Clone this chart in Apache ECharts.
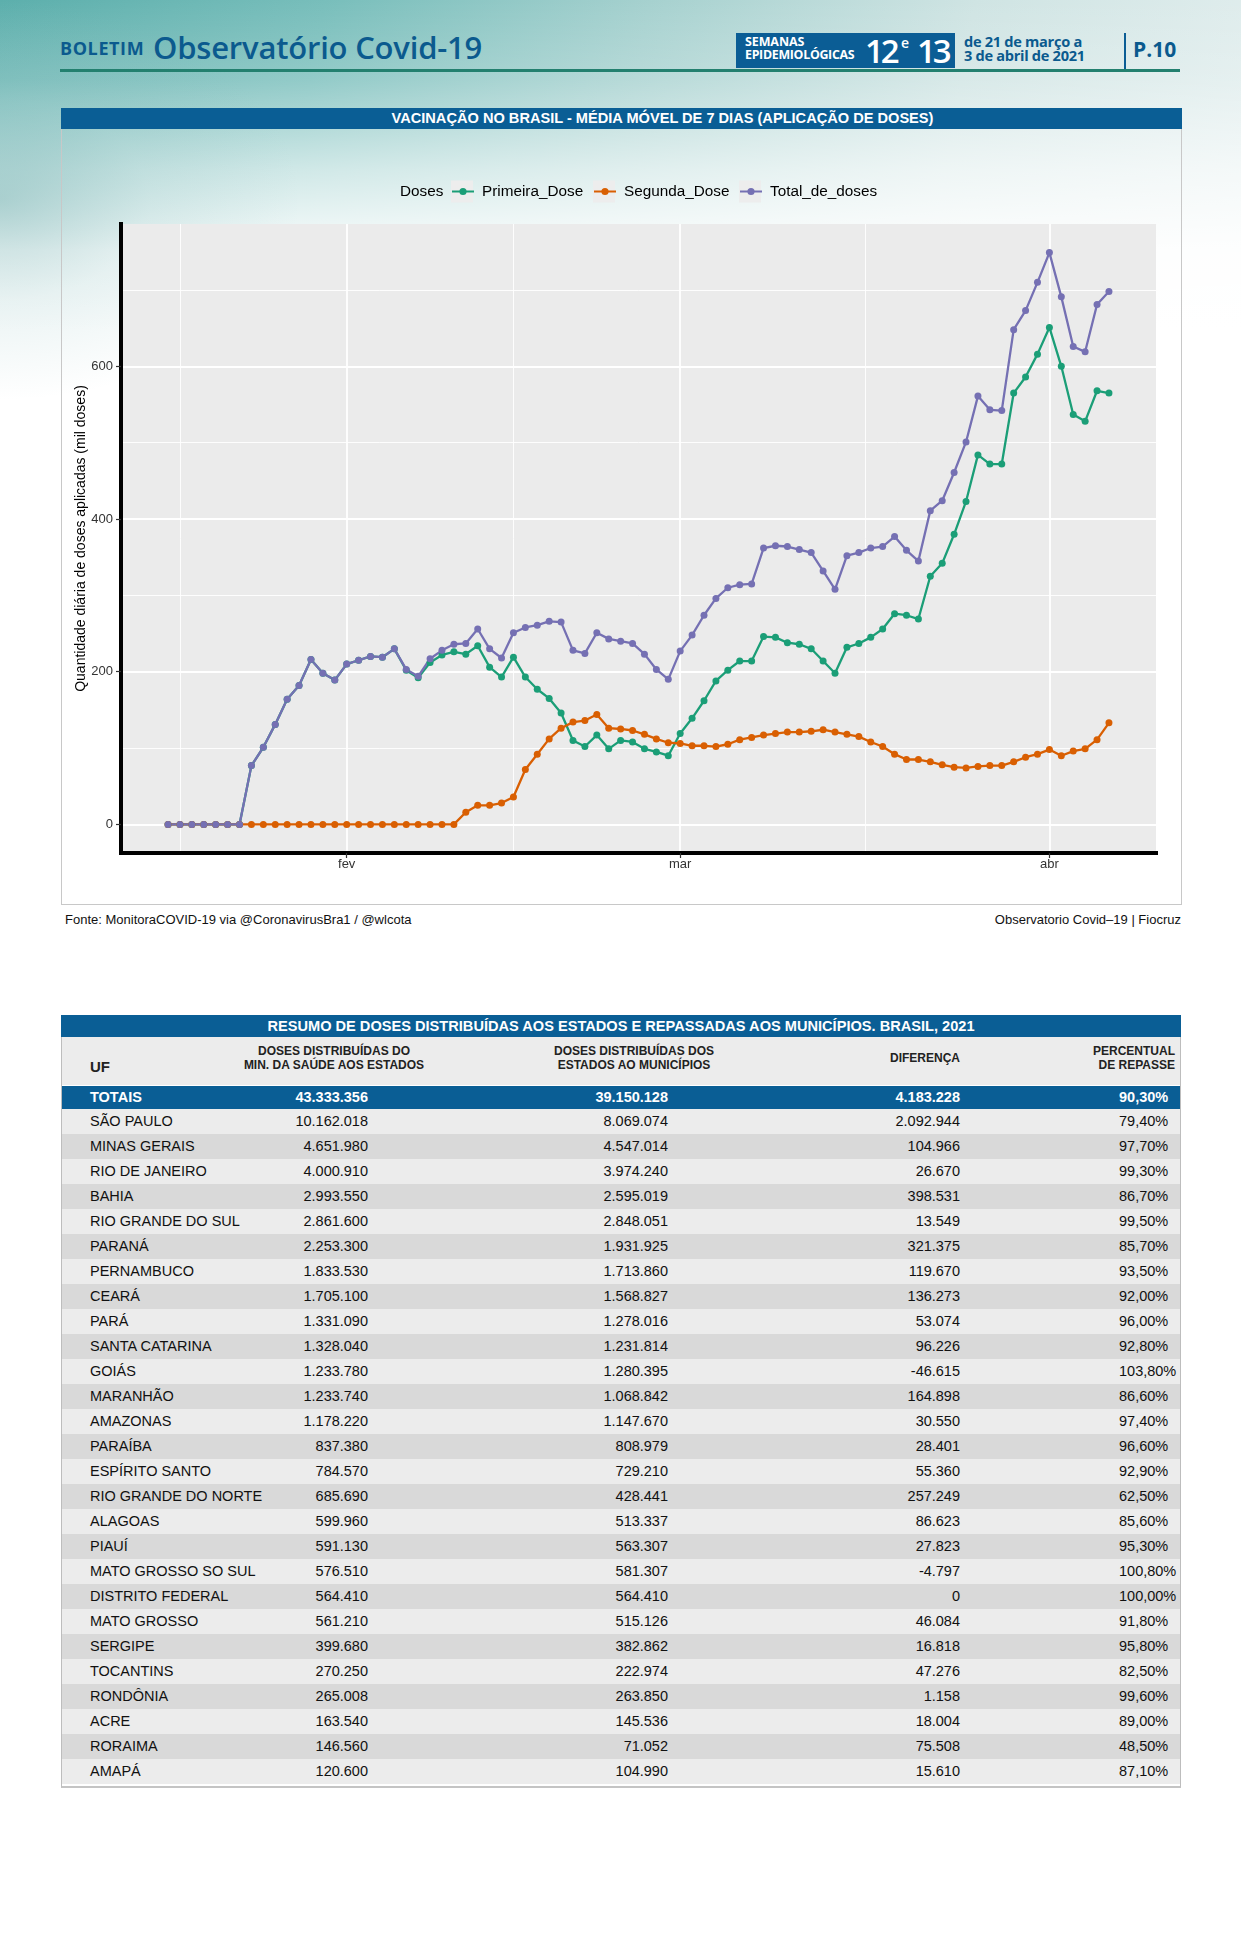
<!DOCTYPE html>
<html><head><meta charset="utf-8">
<script src="https://cdn.jsdelivr.net/npm/echarts@6/dist/echarts.min.js"></script>
<style>
html,body{margin:0;padding:0;background:#fff;}
#page{position:relative;width:1241px;height:1949px;overflow:hidden;font-family:"Liberation Sans",Arial,sans-serif;}
.abs{position:absolute;white-space:nowrap;}
#bg{position:absolute;left:0;top:0;width:1241px;height:340px;
 background:
 linear-gradient(to bottom, rgba(255,255,255,0) 0px, rgba(255,255,255,0.2) 80px, rgba(255,255,255,0.65) 170px, rgba(255,255,255,0.95) 250px, #fff 330px),
 linear-gradient(100deg, #5cafac 0%, #78bebb 25%, #a6d1cf 50%, #cfe4e3 75%, #e2eeee 100%);}
#bgleft{position:absolute;left:0;top:0;width:500px;height:500px;
 background:radial-gradient(ellipse 60% 40% at 0% 40%, rgba(100,165,165,0.40) 0%, rgba(140,190,190,0.18) 50%, rgba(255,255,255,0) 100%);}
.hdr{font-family:"Open Sans","Noto Sans",sans-serif;color:#0b5a8e;}
#chart{position:absolute;left:0;top:0;width:1241px;height:940px;z-index:3;}
.bar{position:absolute;background:#0a5e95;color:#fff;font-weight:bold;font-size:14.6px;text-align:center;}
.cell{position:absolute;white-space:nowrap;font-size:14.5px;color:#111;line-height:25px;}
.hcell{position:absolute;white-space:nowrap;font-size:12px;font-weight:bold;color:#222;line-height:13.5px;}
</style></head><body>
<div id="page">
 <div id="bg"></div>
 <div id="bgleft"></div>
 <!-- header -->
 <div class="abs hdr" style="left:60px;top:39px;font-size:18px;line-height:18px;font-weight:700;letter-spacing:0.6px;">BOLETIM</div>
 <div class="abs hdr" style="left:153px;top:31px;font-size:31px;line-height:32px;font-weight:600;letter-spacing:-0.2px;">Observatório Covid-19</div>
 <div class="abs" style="left:736px;top:33px;width:219px;height:35px;background:#0b5d95;"></div>
 <div class="abs hdr" style="left:745px;top:36px;font-size:12.5px;line-height:12px;font-weight:700;color:#fff;letter-spacing:-0.1px;">SEMANAS</div>
 <div class="abs hdr" style="left:745px;top:49px;font-size:12.4px;line-height:12px;font-weight:700;color:#fff;letter-spacing:-0.3px;">EPIDEMIOLÓGICAS</div>
 <div class="abs hdr" style="left:865px;top:34px;font-size:33px;line-height:33px;font-weight:600;color:#fff;letter-spacing:-3px;">12</div>
 <div class="abs hdr" style="left:901px;top:36px;font-size:14px;line-height:14px;font-weight:600;color:#fff;">e</div>
 <div class="abs hdr" style="left:917px;top:34px;font-size:33px;line-height:33px;font-weight:600;color:#fff;letter-spacing:-3px;">13</div>
 <div class="abs hdr" style="left:964px;top:35px;font-size:14.6px;line-height:13px;font-weight:700;letter-spacing:-0.3px;">de 21 de março a</div>
 <div class="abs hdr" style="left:964px;top:48.5px;font-size:14.6px;line-height:13px;font-weight:700;letter-spacing:-0.3px;">3 de abril de 2021</div>
 <div class="abs" style="left:1124px;top:33px;width:1.5px;height:36px;background:#0b5d95;"></div>
 <div class="abs hdr" style="left:1133px;top:39px;font-size:21px;line-height:21px;font-weight:700;">P.10</div>
 <div class="abs" style="left:60px;top:69px;width:1120px;height:3px;background:#23806f;"></div>

 <!-- chart box -->
 <div class="abs" style="left:61px;top:129px;width:1119px;height:775px;border:1px solid #c8c8c8;border-top:none;"></div>
 <div class="bar" style="left:61px;top:108px;width:1121px;height:21px;line-height:21px;"><span style="position:relative;left:41px;">VACINAÇÃO NO BRASIL - MÉDIA MÓVEL DE 7 DIAS (APLICAÇÃO DE DOSES)</span></div>
 <div id="chart"></div>
 <div class="abs" style="left:65px;top:912px;font-size:13px;line-height:16px;color:#111;">Fonte: MonitoraCOVID-19 via @CoronavirusBra1 / @wlcota</div>
 <div class="abs" style="right:60px;top:912px;font-size:13px;line-height:16px;color:#111;">Observatorio Covid–19 | Fiocruz</div>

 <!-- table -->
 <div id="table"></div>
</div>
<script>
// ---------------- chart data ----------------
const dates = [
 '2021-01-17','2021-01-18','2021-01-19','2021-01-20','2021-01-21','2021-01-22','2021-01-23','2021-01-24','2021-01-25','2021-01-26',
 '2021-01-27','2021-01-28','2021-01-29','2021-01-30','2021-01-31','2021-02-01','2021-02-02','2021-02-03','2021-02-04','2021-02-05',
 '2021-02-06','2021-02-07','2021-02-08','2021-02-09','2021-02-10','2021-02-11','2021-02-12','2021-02-13','2021-02-14','2021-02-15',
 '2021-02-16','2021-02-17','2021-02-18','2021-02-19','2021-02-20','2021-02-21','2021-02-22','2021-02-23','2021-02-24','2021-02-25',
 '2021-02-26','2021-02-27','2021-02-28','2021-03-01','2021-03-02','2021-03-03','2021-03-04','2021-03-05','2021-03-06','2021-03-07',
 '2021-03-08','2021-03-09','2021-03-10','2021-03-11','2021-03-12','2021-03-13','2021-03-14','2021-03-15','2021-03-16','2021-03-17',
 '2021-03-18','2021-03-19','2021-03-20','2021-03-21','2021-03-22','2021-03-23','2021-03-24','2021-03-25','2021-03-26','2021-03-27',
 '2021-03-28','2021-03-29','2021-03-30','2021-03-31','2021-04-01','2021-04-02','2021-04-03','2021-04-04','2021-04-05','2021-04-06'
];
const primeiraDose = [
 0,0,0,0,0,0,0,77,101,131,
 164,182,216,198,189,210,215,220,219,230,
 202,192,212,222,226,223,234,206,193,219,
 193,177,165,146,110,102,117,99,110,108,
 99,95,90,119,139,162,188,202,214,214,
 246,245,238,236,230,214,198,232,237,245,
 256,276,274,269,325,342,380,423,484,472,
 472,565,586,616,651,600,537,528,568,565
];
const segundaDose = [
 0,0,0,0,0,0,0,0,0,0,
 0,0,0,0,0,0,0,0,0,0,
 0,0,0,0,0,16,25,25,28,36,
 72,92,112,126,134,136,144,126,125,123,
 118,112,107,106,103,103,102,105,111,114,
 117,119,121,121,122,124,121,118,115,108,
 102,92,85,85,82,78,75,74,76,77,
 77,82,88,92,98,90,96,99,111,133
];
const totalDoses = [
 0,0,0,0,0,0,0,77,101,131,
 164,182,216,198,189,210,215,220,219,230,
 203,194,217,228,236,237,256,230,218,251,
 258,261,266,265,228,224,251,243,240,237,
 223,203,190,227,248,274,296,310,314,315,
 362,365,364,360,356,332,308,352,356,362,
 364,377,359,345,411,424,461,501,561,543,
 542,648,673,710,749,691,626,619,681,698
];
const seriesNames = ['Primeira_Dose','Segunda_Dose','Total_de_doses'];
const seriesColors = ['#1B9E77','#D95F02','#7570B3'];
const monthTicks = ['2021-02-01','2021-03-01','2021-04-01'];
const monthLabels = ['fev','mar','abr'];
const yTicks = [0,200,400,600];
const yMinorTicks = [100,300,500,700];

// ---------------- table data ----------------
const ufNames = ['SÃO PAULO','MINAS GERAIS','RIO DE JANEIRO','BAHIA','RIO GRANDE DO SUL','PARANÁ','PERNAMBUCO','CEARÁ','PARÁ','SANTA CATARINA','GOIÁS','MARANHÃO','AMAZONAS','PARAÍBA','ESPÍRITO SANTO','RIO GRANDE DO NORTE','ALAGOAS','PIAUÍ','MATO GROSSO SO SUL','DISTRITO FEDERAL','MATO GROSSO','SERGIPE','TOCANTINS','RONDÔNIA','ACRE','RORAIMA','AMAPÁ'];
const dosesMS = ['10.162.018','4.651.980','4.000.910','2.993.550','2.861.600','2.253.300','1.833.530','1.705.100','1.331.090','1.328.040','1.233.780','1.233.740','1.178.220','837.380','784.570','685.690','599.960','591.130','576.510','564.410','561.210','399.680','270.250','265.008','163.540','146.560','120.600'];
const dosesEstados = ['8.069.074','4.547.014','3.974.240','2.595.019','2.848.051','1.931.925','1.713.860','1.568.827','1.278.016','1.231.814','1.280.395','1.068.842','1.147.670','808.979','729.210','428.441','513.337','563.307','581.307','564.410','515.126','382.862','222.974','263.850','145.536','71.052','104.990'];
const diferenca = ['2.092.944','104.966','26.670','398.531','13.549','321.375','119.670','136.273','53.074','96.226','-46.615','164.898','30.550','28.401','55.360','257.249','86.623','27.823','-4.797','0','46.084','16.818','47.276','1.158','18.004','75.508','15.610'];
const percentual = ['79,40%','97,70%','99,30%','86,70%','99,50%','85,70%','93,50%','92,00%','96,00%','92,80%','103,80%','86,60%','97,40%','96,60%','92,90%','62,50%','85,60%','95,30%','100,80%','100,00%','91,80%','95,80%','82,50%','99,60%','89,00%','48,50%','87,10%'];
const totais = ['TOTAIS','43.333.356','39.150.128','4.183.228','90,30%'];

// ---------------- build table first ----------------
const T=document.getElementById('table');
function add(html){T.insertAdjacentHTML('beforeend',html);}
const TL=61, TW=1120;
add('<div class="bar" style="left:'+TL+'px;top:1015px;width:'+TW+'px;height:22px;line-height:22px;">RESUMO DE DOSES DISTRIBUÍDAS AOS ESTADOS E REPASSADAS AOS MUNICÍPIOS. BRASIL, 2021</div>');
add('<div class="abs" style="left:'+TL+'px;top:1037px;width:'+(TW-2)+'px;height:749px;border:1px solid #bdbdbd;border-top:none;border-bottom:2px solid #c4c4c4;"></div>');
add('<div class="abs" style="left:'+(TL+1)+'px;top:1037px;width:'+(TW-2)+'px;height:48px;background:#ececec;"></div>');
add('<div class="hcell" style="left:90px;top:1059px;font-size:15px;line-height:16px;">UF</div>');
add('<div class="hcell" style="left:234px;width:200px;top:1045px;text-align:center;">DOSES DISTRIBUÍDAS DO<br>MIN. DA SAÚDE AOS ESTADOS</div>');
add('<div class="hcell" style="left:534px;width:200px;top:1045px;text-align:center;">DOSES DISTRIBUÍDAS DOS<br>ESTADOS AO MUNICÍPIOS</div>');
add('<div class="hcell" style="left:825px;width:200px;top:1052px;text-align:center;">DIFERENÇA</div>');
add('<div class="hcell" style="left:975px;width:200px;top:1045px;text-align:right;">PERCENTUAL<br>DE REPASSE</div>');
add('<div class="abs" style="left:'+(TL+1)+'px;top:1086px;width:'+(TW-2)+'px;height:23px;background:#0a5e95;"></div>');
function rowCells(top,vals,style){
  add('<div class="cell" style="left:90px;top:'+top+'px;'+style+'">'+vals[0]+'</div>');
  add('<div class="cell" style="right:'+(1241-368)+'px;top:'+top+'px;'+style+'">'+vals[1]+'</div>');
  add('<div class="cell" style="right:'+(1241-668)+'px;top:'+top+'px;'+style+'">'+vals[2]+'</div>');
  add('<div class="cell" style="right:'+(1241-960)+'px;top:'+top+'px;'+style+'">'+vals[3]+'</div>');
  add('<div class="cell" style="left:1119px;top:'+top+'px;'+style+'">'+vals[4]+'</div>');
}
rowCells(1085,totais,'color:#fff;font-weight:bold;');
for(let i=0;i<ufNames.length;i++){
  const top=1109+25*i;
  add('<div class="abs" style="left:'+(TL+1)+'px;top:'+top+'px;width:'+(TW-2)+'px;height:25px;background:'+(i%2===0?'#ececec':'#d9d9d9')+';"></div>');
  rowCells(top,[ufNames[i],dosesMS[i],dosesEstados[i],diferenca[i],percentual[i]],'');
}

// ---------------- build chart ----------------
function ts(s){const p=s.split('-').map(Number);return new Date(p[0],p[1]-1,p[2]).getTime();}
const xs=dates.map(ts);
const t0=xs[0], t1=xs[xs.length-1];
const xPad=(t1-t0)*0.05;
const xMin=t0-xPad, xMax=t1+xPad;
const majorX=monthTicks.map(ts);
const minorX=[];
const ext=[majorX[0]-(majorX[1]-majorX[0])].concat(majorX);
for(let i=0;i<ext.length-1;i++){minorX.push((ext[i]+ext[i+1])/2);}
const allVals=primeiraDose.concat(segundaDose,totalDoses);
const vMin=Math.min.apply(null,allVals), vMax=Math.max.apply(null,allVals);
const yPad=(vMax-vMin)*0.05;
const yMin=vMin-yPad, yMax=vMax+yPad;
const FONT='"Liberation Sans", Arial, sans-serif';

const valueArrays=[primeiraDose,segundaDose,totalDoses];
const series=seriesNames.map((n,k)=>({
  name:n,type:'line',xAxisIndex:0,yAxisIndex:0,
  data:xs.map((x,i)=>[x,valueArrays[k][i]]),
  symbol:'circle',symbolSize:7,showSymbol:true,showAllSymbol:true,
  lineStyle:{width:2.3,color:seriesColors[k]},
  itemStyle:{color:seriesColors[k],borderWidth:0},
  emphasis:{disabled:true},silent:true
}));

const legendLefts=[451,593,739];
const legends=seriesNames.map((n,k)=>({
  data:[n],left:legendLefts[k],top:184,padding:0,itemWidth:22,itemHeight:9,
  selectedMode:false,z:6,
  textStyle:{fontSize:15.3,color:'#000',fontFamily:FONT,padding:[0,0,0,3]}
}));

const chart=echarts.init(document.getElementById('chart'),null,{renderer:'canvas'});
chart.setOption({
  animation:false,
  backgroundColor:'transparent',
  grid:{left:121,top:224,width:1035,height:629,show:true,backgroundColor:'#EBEBEB',borderWidth:0,containLabel:false},
  legend:legends,
  graphic:{elements:[
    {type:'text',left:400,top:184,style:{text:'Doses',fontSize:15.3,fill:'#000',fontFamily:FONT},z:10},
    {type:'rect',shape:{x:451,y:180.5,width:22,height:22},style:{fill:'#EDEDED'},z:1},
    {type:'rect',shape:{x:593,y:180.5,width:22,height:22},style:{fill:'#EDEDED'},z:1},
    {type:'rect',shape:{x:739,y:180.5,width:22,height:22},style:{fill:'#EDEDED'},z:1}
  ]},
  xAxis:[
    {type:'value',min:xMin,max:xMax,position:'bottom',
     axisLine:{show:true,onZero:false,lineStyle:{color:'#000',width:4,cap:'square'}},
     axisTick:{show:true,customValues:majorX,length:5,lineStyle:{color:'#333',width:1.2}},
     axisLabel:{show:true,customValues:majorX,color:'#333',fontSize:13,fontFamily:FONT,margin:5,
       formatter:function(v){const idx=majorX.indexOf(v);return idx>=0?monthLabels[idx]:'';}},
     splitLine:{show:true,lineStyle:{color:'#FFFFFF',width:1.8}}},
    {type:'value',min:xMin,max:xMax,position:'top',
     axisLine:{show:false},axisTick:{show:false,customValues:minorX},axisLabel:{show:false},
     splitLine:{show:true,lineStyle:{color:'#FFFFFF',width:0.9}}}
  ],
  yAxis:[
    {type:'value',min:yMin,max:yMax,position:'left',
     name:'Quantidade diária de doses aplicadas (mil doses)',nameLocation:'middle',nameGap:33,nameRotate:90,
     nameMoveOverlap:false,
     nameTextStyle:{fontSize:14,color:'#000',fontFamily:FONT},
     axisLine:{show:true,lineStyle:{color:'#000',width:4,cap:'square'}},
     axisTick:{show:true,customValues:yTicks,length:5,lineStyle:{color:'#333',width:1.2}},
     axisLabel:{show:true,customValues:yTicks,color:'#333',fontSize:13,fontFamily:FONT,margin:8},
     splitLine:{show:true,lineStyle:{color:'#FFFFFF',width:1.8}}},
    {type:'value',min:yMin,max:yMax,position:'right',
     axisLine:{show:false},axisTick:{show:false,customValues:yMinorTicks},axisLabel:{show:false},
     splitLine:{show:true,lineStyle:{color:'#FFFFFF',width:0.9}}}
  ],
  series:series
});
</script>
</body></html>
